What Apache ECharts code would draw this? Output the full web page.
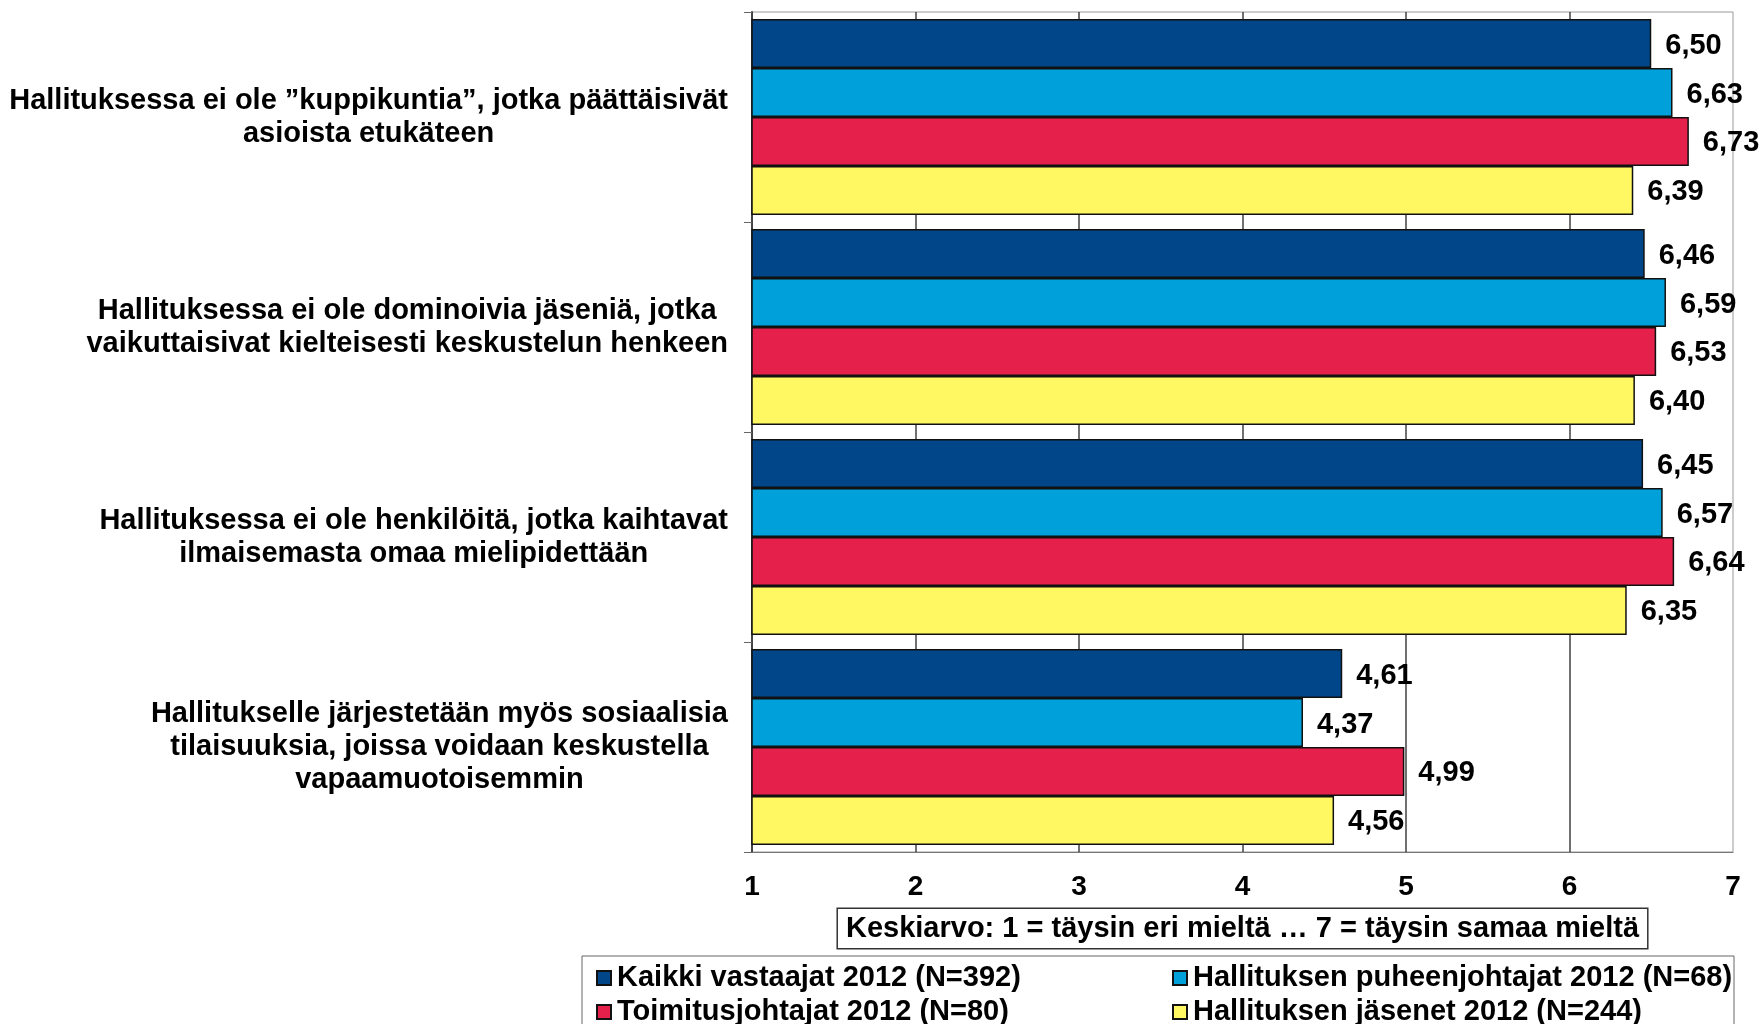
<!DOCTYPE html>
<html><head><meta charset="utf-8">
<script src="https://cdn.jsdelivr.net/npm/echarts@6/dist/echarts.min.js"></script>
<style>html,body{margin:0;padding:0;background:#fff}#c{width:1764px;height:1024px}</style>
</head><body><div id="c"></div>
<script>
const categories = [
  'Hallituksessa ei ole ”kuppikuntia”, jotka päättäisivät\nasioista etukäteen',
  'Hallituksessa ei ole dominoivia jäseniä, jotka\nvaikuttaisivat kielteisesti keskustelun henkeen',
  'Hallituksessa ei ole henkilöitä, jotka kaihtavat\nilmaisemasta omaa mielipidettään',
  'Hallitukselle järjestetään myös sosiaalisia\ntilaisuuksia, joissa voidaan keskustella\nvapaamuotoisemmin'
];
const seriesNames = [
  'Kaikki vastaajat 2012 (N=392)',
  'Hallituksen puheenjohtajat 2012 (N=68)',
  'Toimitusjohtajat 2012 (N=80)',
  'Hallituksen jäsenet 2012 (N=244)'
];
const kaikki = [6.50, 6.46, 6.45, 4.61];
const puheenjohtajat = [6.63, 6.59, 6.57, 4.37];
const toimitusjohtajat = [6.73, 6.53, 6.64, 4.99];
const jasenet = [6.39, 6.40, 6.35, 4.56];
const xTicks = [1, 2, 3, 4, 5, 6, 7];
const axisTitle = 'Keskiarvo: 1 = täysin eri mieltä … 7 = täysin samaa mieltä';

const colors = ['#004689', '#00A0DA', '#E4204B', '#FFF862'];
const FONT = '"Liberation Sans", Arial, sans-serif';
const values = [kaikki, puheenjohtajat, toimitusjohtajat, jasenet];

const chart = echarts.init(document.getElementById('c'), null, {renderer: 'canvas'});

const series = seriesNames.map((name, i) => ({
  name: name,
  type: 'bar',
  data: values[i],
  barGap: '0%',
  barCategoryGap: '6.7%',
  itemStyle: {color: colors[i], borderColor: '#111', borderWidth: 1.5},
  label: {
    show: true,
    position: 'right',
    distance: 14,
    offset: [0, 2],
    color: '#000',
    fontFamily: FONT,
    fontWeight: 'bold',
    fontSize: 29,
    formatter: p => p.value.toFixed(2).replace('.', ',')
  },
  emphasis: {disabled: true},
  animation: false
}));

const legendCommon = {
  orient: 'horizontal',
  itemWidth: 14,
  itemHeight: 14,
  itemGap: 0,
  padding: 0,
  icon: 'rect',
  selectedMode: false,
  textStyle: {fontFamily: FONT, fontWeight: 'bold', fontSize: 29, lineHeight: 34, color: '#000', padding: [0, 0, 0, 1]}
};
const legendSlots = [
  {left: 596, top: 961},
  {left: 1172, top: 961},
  {left: 596, top: 995},
  {left: 1172, top: 995}
];

chart.setOption({
  backgroundColor: '#fff',
  animation: false,
  grid: {
    left: 752, right: 31, top: 12, bottom: 172,
    show: true, borderColor: '#999', borderWidth: 1, backgroundColor: '#fff'
  },
  xAxis: {
    type: 'value',
    min: xTicks[0],
    max: xTicks[xTicks.length - 1],
    interval: 1,
    axisLine: {show: true, lineStyle: {color: '#777', width: 1}},
    axisTick: {show: false},
    splitLine: {show: true, showMinLine: false, showMaxLine: false, lineStyle: {color: '#404040', width: 1.5}},
    axisLabel: {fontFamily: FONT, fontWeight: 'bold', fontSize: 28, color: '#000', margin: 21},
    name: axisTitle,
    nameLocation: 'middle',
    nameGap: 57,
    nameTextStyle: {
      fontFamily: FONT, fontWeight: 'bold', fontSize: 29, color: '#000', lineHeight: 32,
      borderColor: '#333', borderWidth: 1.5, padding: [4, 8, 3, 8], backgroundColor: '#fff'
    }
  },
  yAxis: {
    type: 'category',
    data: categories,
    inverse: true,
    axisLine: {show: true, lineStyle: {color: '#444', width: 2}},
    axisTick: {show: true, length: 8, lineStyle: {color: '#666'}},
    splitLine: {show: false},
    axisLabel: {
      margin: 24,
      formatter: v => v.split('\n').map(s => '{c|' + s + '}').join('\n'),
      rich: {
        c: {fontFamily: FONT, fontWeight: 'bold', fontSize: 29, lineHeight: 33, color: '#000', align: 'center'}
      }
    }
  },
  legend: seriesNames.map((n, i) => Object.assign({}, legendCommon, legendSlots[i], {data: [n]})),
  graphic: [{
    type: 'rect',
    shape: {x: 582, y: 956, width: 1152, height: 120},
    style: {fill: 'none', stroke: '#666', lineWidth: 1},
    silent: true,
    z: 0
  }],
  series: series
});
</script>
</body></html>
